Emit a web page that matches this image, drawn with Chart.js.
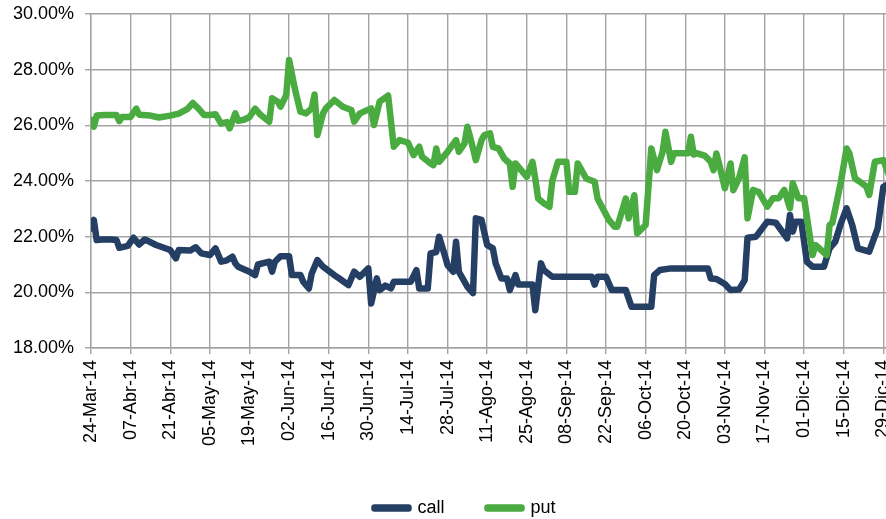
<!DOCTYPE html>
<html>
<head>
<meta charset="utf-8">
<script src="https://cdn.jsdelivr.net/npm/chart.js@4.4.1/dist/chart.umd.min.js"></script>
<style>
  html, body { margin: 0; padding: 0; background: #fff; overflow: hidden; }
  #wrap { position: absolute; left: 0; top: 0; width: 900px; height: 519px; }
</style>
</head>
<body>
<div id="wrap"><canvas id="c"></canvas></div>
<script>
// Start date of the x axis (day 0) and Spanish month abbreviations for tick labels
const startDate = [2014, 2, 24];
const monthNames = ['Ene','Feb','Mar','Abr','May','Jun','Jul','Ago','Sep','Oct','Nov','Dic'];

// call series: days after 24-Mar-14, implied volatility (%)
const callDays = [0,1,2,4,7,9,10,13,15,17,19,23,28,30,31,35,37,39,42,44,46,48,50,51,52,56,58,59,63,64,65,67,70,71,74,75,77,78,80,82,86,88,91,93,95,98,99,101,102,104,106,107,113,115,116,119,120,122,123,125,126,128,129,130,133,135,136,138,140,142,143,145,147,148,150,151,156,157,159,160,163,177,178,179,182,184,189,191,198,199,201,205,218,219,221,224,226,229,231,232,235,239,242,246,247,248,249,251,253,255,259,261,263,265,267,269,271,275,278,280,282];
const callValues = [22.3,22.6,21.88,21.9,21.9,21.88,21.6,21.67,21.96,21.72,21.9,21.7,21.52,21.22,21.52,21.5,21.62,21.4,21.34,21.58,21.1,21.15,21.28,21.04,20.92,20.74,20.62,21.0,21.1,20.74,21.1,21.3,21.3,20.62,20.62,20.38,20.14,20.68,21.16,20.92,20.62,20.48,20.26,20.74,20.56,20.86,19.6,20.5,20.08,20.24,20.14,20.38,20.38,20.8,20.14,20.14,21.4,21.45,22.0,21.34,20.98,20.74,21.82,20.74,20.2,19.97,22.66,22.6,21.7,21.58,21.04,20.5,20.5,20.08,20.62,20.28,20.28,19.36,21.04,20.8,20.56,20.56,20.28,20.56,20.56,20.08,20.08,19.48,19.48,20.62,20.8,20.86,20.86,20.5,20.48,20.3,20.08,20.1,20.44,21.96,22.0,22.54,22.5,21.94,22.78,22.18,22.54,22.54,21.1,20.92,20.92,21.58,21.82,22.48,23.02,22.42,21.58,21.46,22.3,23.79,23.9];

// put series: days after 24-Mar-14, implied volatility (%)
const putDays = [0,1,2,5,9,10,11,14,16,17,21,24,28,31,34,36,38,40,42,44,46,48,49,51,52,54,56,58,60,63,64,66,67,69,70,72,74,76,78,79,80,82,83,86,89,92,93,95,99,100,102,105,107,109,111,112,114,116,117,120,121,122,123,126,129,130,132,133,135,136,138,139,141,142,144,146,148,149,150,152,154,156,157,158,160,162,163,165,168,169,171,172,175,178,179,183,185,186,189,190,192,193,196,198,200,202,203,205,206,211,212,213,214,217,219,220,221,222,224,226,227,229,231,232,234,236,239,241,243,245,247,248,250,252,255,256,260,261,262,265,267,268,270,272,274,275,277,280,282];
const putValues = [26.2,25.95,26.35,26.37,26.37,26.15,26.3,26.3,26.6,26.38,26.35,26.28,26.35,26.42,26.58,26.8,26.6,26.37,26.37,26.4,26.06,26.12,25.89,26.43,26.16,26.2,26.3,26.6,26.37,26.13,26.97,26.85,26.67,27.09,28.35,27.33,26.49,26.43,26.61,27.11,25.65,26.43,26.61,26.91,26.67,26.55,26.13,26.43,26.61,26.01,26.85,27.07,25.23,25.47,25.41,25.38,24.93,25.23,24.87,24.63,24.57,25.17,24.69,25.05,25.47,25.05,25.35,25.95,25.17,24.75,25.47,25.65,25.71,25.23,25.17,24.81,24.63,23.79,24.63,24.39,24.15,24.69,24.09,23.37,23.2,23.07,24.0,24.69,24.69,23.61,23.61,24.63,24.09,23.97,23.37,22.6,22.36,22.36,23.37,22.66,23.49,22.12,22.42,25.17,24.39,25.05,25.77,24.69,25.0,25.0,25.59,24.95,25.0,24.9,24.69,24.39,24.99,24.6,23.74,24.63,23.67,24.1,24.85,22.66,23.68,23.6,23.08,23.38,23.38,23.68,23.02,23.92,23.38,23.38,21.34,21.7,21.34,22.42,22.5,23.97,25.17,24.99,24.09,23.95,23.8,23.5,24.69,24.75,24.2];

// y-axis ticks (%) and x tick step (days)
const yTicks = [18, 20, 22, 24, 26, 28, 30];
const xTickStepDays = 14;
const xMaxDays = 282;

function toPoints(days, vals) { return days.map((d, i) => ({ x: d, y: vals[i] })); }
function dayLabel(d) {
  const t = new Date(Date.UTC(startDate[0], startDate[1], startDate[2]) + d * 86400000);
  const dd = String(t.getUTCDate()).padStart(2, '0');
  const yy = String(t.getUTCFullYear()).slice(2);
  return dd + '-' + monthNames[t.getUTCMonth()] + '-' + yy;
}

const callColor = '#243f63';
const putColor = '#4aab40';
const gridColor = '#a3a3a3';
const fontFamily = "'Liberation Sans', Arial, sans-serif";

// Moves the legend to sit where the reference has it
const legendShift = {
  id: 'legendShift',
  afterLayout(chart) {
    const lg = chart.legend;
    if (!lg || !lg.lineWidths) return;
    const p = lg.options.labels.padding;
    const cx = (lg.left + p + lg.right - lg.lineWidths[0]) / 2;
    const dx = 374.5 - cx;
    lg.left += dx; lg.right += dx;
    lg.top += 8; lg.bottom += 8;
  }
};

new Chart(document.getElementById('c'), {
  type: 'line',
  data: {
    datasets: [
      { label: 'call', data: toPoints(callDays, callValues), borderColor: callColor, backgroundColor: callColor,
        borderWidth: 6.5, pointRadius: 0, tension: 0, borderJoinStyle: 'round', borderCapStyle: 'round', order: 1 },
      { label: 'put', data: toPoints(putDays, putValues), borderColor: putColor, backgroundColor: putColor,
        borderWidth: 6.5, pointRadius: 0, tension: 0, borderJoinStyle: 'round', borderCapStyle: 'round', order: 0 }
    ]
  },
  plugins: [legendShift],
  options: {
    responsive: true,
    maintainAspectRatio: false,
    animation: false,
    layout: { padding: { left: 0, right: 11, top: 14, bottom: 0 } },
    plugins: {
      tooltip: { enabled: false },
      legend: {
        position: 'bottom',
        labels: {
          color: '#000',
          font: { family: fontFamily, size: 18 },
          boxWidth: 34,
          boxHeight: 1,
          padding: 43,
          generateLabels: (chart) => chart.data.datasets.map((ds, i) => ({
            text: ds.label, fillStyle: ds.borderColor, strokeStyle: ds.borderColor, lineWidth: 6.5,
            lineJoin: 'round', lineCap: 'round',
            hidden: false, datasetIndex: i, fontColor: '#000'
          }))
        }
      }
    },
    scales: {
      x: {
        type: 'linear',
        min: 0,
        max: xMaxDays,
        afterBuildTicks: (axis) => {
          const t = [];
          for (let v = 0; v <= xMaxDays; v += xTickStepDays) t.push({ value: v });
          axis.ticks = t;
        },
        afterFit: (axis) => { axis.height = 100; axis.paddingLeft = 0; axis.paddingRight = 0; },
        ticks: {
          stepSize: xTickStepDays,
          autoSkip: false,
          maxRotation: 90,
          minRotation: 90,
          padding: 6,
          color: '#000',
          font: { family: fontFamily, size: 18 },
          callback: (v) => dayLabel(v)
        },
        grid: { color: gridColor, lineWidth: 1.4, tickLength: 6, drawTicks: true },
        border: { color: gridColor, width: 1.4 }
      },
      y: {
        min: yTicks[0],
        max: yTicks[yTicks.length - 1],
        afterFit: (axis) => { axis.width = 91; axis.paddingTop = 0; axis.paddingBottom = 0; },
        afterBuildTicks: (axis) => { axis.ticks = yTicks.map(v => ({ value: v })); },
        ticks: {
          stepSize: 2,
          padding: 11,
          color: '#000',
          font: { family: fontFamily, size: 18 },
          callback: (v) => v.toFixed(2) + '%'
        },
        grid: { color: gridColor, lineWidth: 1.4, tickLength: 6, drawTicks: true },
        border: { color: gridColor, width: 1.4 }
      }
    }
  }
});
</script>
</body>
</html>
